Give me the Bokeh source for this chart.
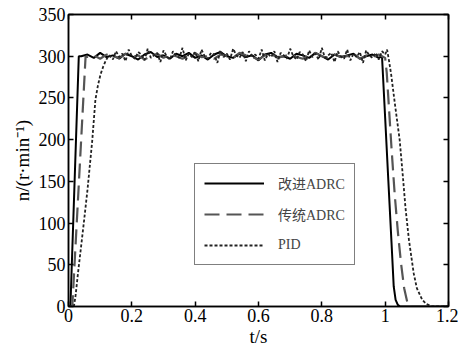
import numpy as np
from bokeh.plotting import figure
from bokeh.models import Range1d, LinearAxis, Legend, LegendItem, FixedTicker
from bokeh.embed import file_html
from bokeh.resources import INLINE

# ---------------- data ----------------
series_names = ["改进ADRC", "传统ADRC", "PID"]

# Improved ADRC
adrc1_rise_t = [0.0, 0.006, 0.0325]
adrc1_rise_n = [0, 0, 300]
adrc1_plateau_start, adrc1_plateau_step = 0.04, 0.02
adrc1_plateau_n = [300, 302, 298, 304, 299, 301, 297, 303, 300, 296, 302, 305,
                   299, 301, 297, 303, 300, 304, 298, 301, 296, 302, 305, 300,
                   298, 303, 299, 301, 295, 302, 304, 299, 300, 297, 303, 301,
                   298, 304, 300, 296, 302, 299, 301, 303, 297, 300, 302, 298]
adrc1_fall_t = [0.99, 1.0, 1.01, 1.02, 1.027, 1.033, 1.04, 1.047, 1.2]
adrc1_fall_n = [300, 226, 151, 77, 24, 8, 2, 0, 0]

# Conventional ADRC
adrc2_rise_t = [0.0, 0.012, 0.054]
adrc2_rise_n = [0, 0, 300]
adrc2_plateau_start, adrc2_plateau_step = 0.06, 0.02
adrc2_plateau_n = [299, 301, 297, 302, 300, 298, 303, 299, 301, 296, 300, 303,
                   298, 302, 300, 297, 301, 304, 299, 300, 297, 302, 300, 298,
                   304, 301, 299, 296, 301, 303, 298, 300, 302, 299, 297, 301,
                   304, 300, 298, 302, 299, 300, 303, 297, 301, 299, 302]
adrc2_fall_t = [0.99, 1.0, 1.005, 1.01, 1.02, 1.03, 1.04, 1.05, 1.06, 1.07, 1.08, 1.2]
adrc2_fall_n = [300, 298, 280, 250, 190, 135, 90, 52, 22, 5, 0, 0]

# PID
pid_rise_t = [0.0, 0.017, 0.022, 0.03, 0.048, 0.06, 0.075, 0.085, 0.093,
              0.101, 0.11, 0.117, 0.124]
pid_rise_n = [0, 0, 12, 40, 99, 140, 199, 248, 265, 278, 288, 294, 299]
pid_plateau_start, pid_plateau_step = 0.13, 0.01
pid_plateau_n = [301, 296, 306, 299, 303, 294, 308, 300, 297, 305,
                 302, 295, 309, 298, 301, 304, 293, 307, 300, 296,
                 306, 301, 298, 310, 295, 303, 299, 305, 294, 308,
                 300, 297, 304, 302, 292, 307, 299, 303, 296, 309,
                 301, 298, 305, 294, 306, 300, 302, 297, 308, 295,
                 303, 299, 306, 293, 304, 301, 297, 309, 300, 296,
                 305, 302, 294, 307, 299, 303, 296, 310, 298, 301,
                 304, 293, 306, 300, 297, 308, 295, 303, 299, 305,
                 292, 307, 301, 298, 304, 296, 306, 302]
pid_fall_t = [1.006, 1.012, 1.019, 1.03, 1.046, 1.055, 1.064, 1.075, 1.09,
              1.1, 1.117, 1.13, 1.148, 1.2]
pid_fall_n = [308, 295, 278, 245, 199, 160, 119, 80, 40, 22, 8, 3, 0, 0]

x_ticks = [0, 0.2, 0.4, 0.6, 0.8, 1.0, 1.2]
x_tick_labels = ["0", "0.2", "0.4", "0.6", "0.8", "1", "1.2"]
y_ticks = [0, 50, 100, 150, 200, 250, 300, 350]
x_title = "t/s"
y_title = "n/(r·min⁻¹)"


def build(rise_t, rise_n, start, step, plat_n, fall_t, fall_n):
    plat_t = list(np.round(start + step * np.arange(len(plat_n)), 4))
    return rise_t + plat_t + fall_t, rise_n + plat_n + fall_n


t1, n1 = build(adrc1_rise_t, adrc1_rise_n, adrc1_plateau_start,
               adrc1_plateau_step, adrc1_plateau_n, adrc1_fall_t, adrc1_fall_n)
t2, n2 = build(adrc2_rise_t, adrc2_rise_n, adrc2_plateau_start,
               adrc2_plateau_step, adrc2_plateau_n, adrc2_fall_t, adrc2_fall_n)
t3, n3 = build(pid_rise_t, pid_rise_n, pid_plateau_start,
               pid_plateau_step, pid_plateau_n, pid_fall_t, pid_fall_n)

# ---------------- figure ----------------
SERIF = "Liberation Serif"
p = figure(width=458, height=349, output_backend="svg", toolbar_location=None,
           x_range=Range1d(0, 1.2), y_range=Range1d(0, 350),
           min_border_left=68, min_border_right=10, min_border_top=14,
           min_border_bottom=42)
p.background_fill_color = "white"
p.border_fill_color = "white"
p.grid.visible = False
p.outline_line_color = "black"
p.outline_line_width = 1.5

for ax in (p.xaxis[0], p.yaxis[0]):
    ax.major_tick_in = 5
    ax.major_tick_out = 0
    ax.minor_tick_line_color = None
    ax.axis_line_color = "black"
    ax.axis_line_width = 1.5
    ax.major_tick_line_width = 1.5
    ax.major_label_text_font = SERIF
    ax.major_label_text_font_size = "18px"
    ax.major_label_text_color = "black"
    ax.axis_label_text_font = SERIF
    ax.axis_label_text_font_size = "19px"
    ax.axis_label_text_font_style = "normal"
    ax.axis_label_text_color = "black"

p.xaxis[0].ticker = FixedTicker(ticks=x_ticks)
p.xaxis[0].major_label_overrides = {t: l for t, l in zip(x_ticks, x_tick_labels)}
p.xaxis[0].major_label_standoff = 2
p.xaxis[0].axis_label = x_title
p.xaxis[0].axis_label_standoff = 1
p.yaxis[0].ticker = FixedTicker(ticks=y_ticks)
p.yaxis[0].major_label_standoff = 3
p.yaxis[0].axis_label = y_title
p.yaxis[0].axis_label_standoff = 3

# top & right axes: ticks only
top = LinearAxis(ticker=FixedTicker(ticks=x_ticks))
right = LinearAxis(ticker=FixedTicker(ticks=y_ticks))
for ax in (top, right):
    ax.major_tick_in = 5
    ax.major_tick_out = 0
    ax.minor_tick_line_color = None
    ax.major_label_text_font_size = "1px"
    ax.major_label_text_color = None
    ax.major_label_standoff = 0
    ax.axis_line_width = 1.5
    ax.major_tick_line_width = 1.5
p.add_layout(top, "above")
p.add_layout(right, "right")

r1 = p.line(t1, n1, line_color="black", line_width=2)
r2 = p.line(t2, n2, line_color="#555555", line_width=2.2, line_dash="15 7")
r3 = p.line(t3, n3, line_color="#222222", line_width=1.8, line_dash="3 2")

legend = Legend(items=[LegendItem(label=series_names[0], renderers=[r1]),
                       LegendItem(label=series_names[1], renderers=[r2]),
                       LegendItem(label=series_names[2], renderers=[r3])],
                location=(126, 41))
legend.border_line_color = "black"
legend.border_line_width = 1.5
legend.background_fill_alpha = 1
legend.label_text_font = "'Liberation Serif', 'Noto Sans CJK SC'"
legend.label_text_font_size = "14px"
legend.glyph_width = 60
legend.label_standoff = 14
legend.padding = 9
legend.spacing = 11
legend.margin = 0
p.add_layout(legend, "center")

open("out.html", "w").write(file_html(p, INLINE))
